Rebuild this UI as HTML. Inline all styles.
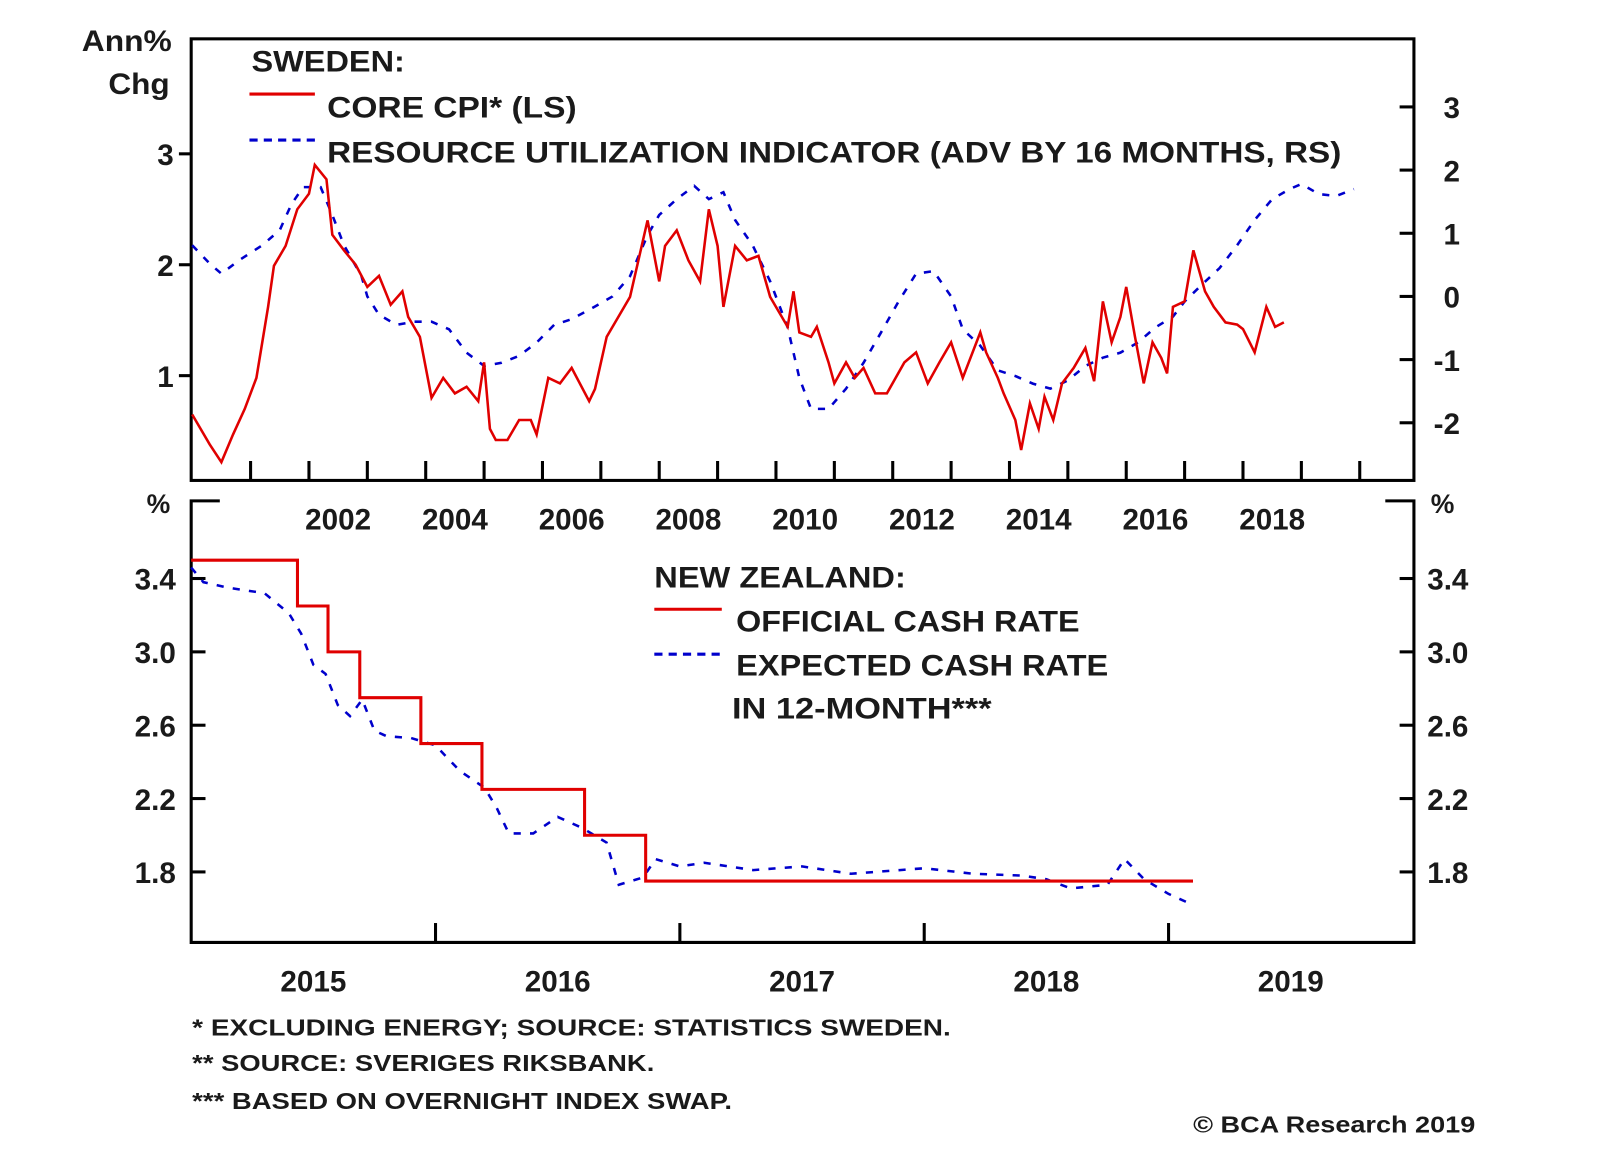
<!DOCTYPE html>
<html><head><meta charset="utf-8"><style>
html,body{margin:0;padding:0;background:#fff;}
svg{display:block;}
text{font-family:"Liberation Sans",sans-serif;font-weight:bold;fill:#1a1a1a;}
</style></head><body>
<svg id="chart" width="1600" height="1152" viewBox="0 0 1565 1127" preserveAspectRatio="none" xmlns="http://www.w3.org/2000/svg">
<g>
<rect x="187" y="38" width="1196" height="432" fill="none" stroke="#000" stroke-width="3"/>
<text x="168" y="50" font-size="29" text-anchor="end" textLength="88" lengthAdjust="spacingAndGlyphs">Ann%</text>
<text x="166" y="92" font-size="29" text-anchor="end" textLength="60" lengthAdjust="spacingAndGlyphs">Chg</text>
<text x="246" y="70" font-size="29" textLength="150" lengthAdjust="spacingAndGlyphs">SWEDEN:</text>
<line x1="244" y1="92" x2="308" y2="92" stroke="#e00000" stroke-width="3"/>
<text x="320" y="115" font-size="29" textLength="244" lengthAdjust="spacingAndGlyphs">CORE CPI* (LS)</text>
<line x1="244" y1="137" x2="308" y2="137" stroke="#0000cc" stroke-width="3" stroke-dasharray="8,6"/>
<text x="320" y="159" font-size="29" textLength="992" lengthAdjust="spacingAndGlyphs">RESOURCE UTILIZATION INDICATOR (ADV BY 16 MONTHS, RS)</text>
<g id="top-axes"></g>
<g id="top-series"></g>
</g>
<g>
<path d="M215,490 H187 V922 H1383 V490 H1355" fill="none" stroke="#000" stroke-width="3"/>
<text x="155" y="502" font-size="26" text-anchor="middle">%</text>
<text x="1411" y="502" font-size="26" text-anchor="middle">%</text>
<text x="640" y="575" font-size="29" textLength="246" lengthAdjust="spacingAndGlyphs">NEW ZEALAND:</text>
<line x1="640" y1="596" x2="706" y2="596" stroke="#e00000" stroke-width="3"/>
<text x="720" y="618" font-size="29" textLength="336" lengthAdjust="spacingAndGlyphs">OFFICIAL CASH RATE</text>
<line x1="640" y1="640" x2="706" y2="640" stroke="#0000cc" stroke-width="3" stroke-dasharray="8,6"/>
<text x="720" y="661" font-size="29" textLength="364" lengthAdjust="spacingAndGlyphs">EXPECTED CASH RATE</text>
<text x="716" y="703" font-size="29" textLength="254" lengthAdjust="spacingAndGlyphs">IN 12-MONTH***</text>
<g id="bot-axes"></g>
<g id="bot-series"></g>
</g>
<g>
<text x="188" y="1013" font-size="23" textLength="742" lengthAdjust="spacingAndGlyphs">*   EXCLUDING ENERGY; SOURCE: STATISTICS SWEDEN.</text>
<text x="188" y="1048" font-size="23" textLength="452" lengthAdjust="spacingAndGlyphs">** SOURCE: SVERIGES RIKSBANK.</text>
<text x="188" y="1085" font-size="23" textLength="528" lengthAdjust="spacingAndGlyphs">*** BASED ON OVERNIGHT INDEX SWAP.</text>
<text x="1443" y="1108" font-size="23" text-anchor="end" textLength="276" lengthAdjust="spacingAndGlyphs">© BCA Research 2019</text>
</g>
</svg>
<script>
const cpiYears=[2000.0,2000.3,2000.5,2000.7,2000.9,2001.1,2001.3,2001.4,2001.6,2001.8,2002.0,2002.1,2002.3,2002.4,2002.6,2002.8,2003.0,2003.2,2003.4,2003.6,2003.7,2003.9,2004.1,2004.3,2004.5,2004.7,2004.9,2005.0,2005.1,2005.2,2005.4,2005.6,2005.8,2005.9,2006.1,2006.3,2006.5,2006.8,2006.9,2007.1,2007.3,2007.5,2007.7,2007.8,2008.0,2008.1,2008.3,2008.5,2008.7,2008.85,2009.0,2009.1,2009.3,2009.5,2009.7,2009.9,2010.0,2010.2,2010.3,2010.4,2010.6,2010.7,2010.9,2011.0,2011.2,2011.35,2011.5,2011.7,2011.9,2012.2,2012.4,2012.6,2012.8,2013.0,2013.2,2013.5,2013.6,2013.8,2013.9,2014.1,2014.2,2014.35,2014.5,2014.6,2014.75,2014.9,2015.1,2015.3,2015.45,2015.6,2015.75,2015.9,2016.0,2016.15,2016.3,2016.45,2016.6,2016.7,2016.8,2017.0,2017.15,2017.35,2017.5,2017.7,2017.9,2018.0,2018.2,2018.4,2018.55,2018.7];
const cpiValues=[0.65,0.38,0.22,0.47,0.7,0.98,1.62,1.99,2.17,2.5,2.64,2.9,2.77,2.27,2.13,2.0,1.8,1.9,1.64,1.76,1.53,1.35,0.8,0.98,0.84,0.9,0.77,1.12,0.52,0.42,0.42,0.6,0.6,0.47,0.98,0.93,1.07,0.77,0.88,1.35,1.53,1.71,2.17,2.4,1.85,2.17,2.31,2.04,1.85,2.5,2.17,1.62,2.17,2.04,2.08,1.71,1.62,1.44,1.76,1.39,1.35,1.44,1.12,0.93,1.12,0.98,1.07,0.84,0.84,1.12,1.21,0.93,1.12,1.3,0.98,1.39,1.21,0.98,0.84,0.6,0.33,0.75,0.52,0.81,0.6,0.93,1.07,1.25,0.95,1.67,1.3,1.53,1.8,1.35,0.93,1.3,1.16,1.02,1.62,1.67,2.13,1.76,1.62,1.48,1.46,1.42,1.21,1.62,1.44,1.48];
const ruiYears=[2000.0,2000.3,2000.5,2000.8,2001.2,2001.5,2001.7,2001.9,2002.2,2002.4,2002.6,2002.9,2003.0,2003.2,2003.5,2003.8,2004.1,2004.4,2004.7,2005.0,2005.3,2005.6,2005.9,2006.2,2006.5,2006.9,2007.2,2007.5,2007.8,2008.0,2008.3,2008.6,2008.85,2009.1,2009.3,2009.6,2009.9,2010.2,2010.4,2010.6,2010.9,2011.2,2011.5,2011.8,2012.1,2012.4,2012.7,2013.0,2013.2,2013.5,2013.8,2014.1,2014.4,2014.7,2015.0,2015.3,2015.6,2015.9,2016.2,2016.5,2016.8,2017.0,2017.3,2017.6,2017.9,2018.2,2018.5,2018.8,2019.0,2019.3,2019.6,2019.9];
const ruiValues=[0.81,0.52,0.36,0.57,0.81,1.05,1.46,1.73,1.73,1.29,0.81,0.32,0,-0.29,-0.45,-0.4,-0.4,-0.52,-0.89,-1.1,-1.05,-0.94,-0.73,-0.45,-0.36,-0.16,0,0.32,0.97,1.29,1.54,1.75,1.54,1.65,1.21,0.81,0.24,-0.49,-1.29,-1.78,-1.78,-1.46,-1.05,-0.57,-0.08,0.36,0.4,0,-0.52,-0.78,-1.17,-1.26,-1.38,-1.46,-1.33,-1.1,-0.97,-0.89,-0.73,-0.49,-0.32,-0.08,0.19,0.45,0.81,1.21,1.54,1.7,1.78,1.62,1.59,1.7];
const topYearLabels=["2002","2004","2006","2008","2010","2012","2014","2016","2018"];
const topLeftTicks=[1,2,3];
const topRightTicks=[-2,-1,0,1,2,3];
const ocrDates=[2015.0,2015.435,2015.56,2015.69,2015.94,2016.19,2016.61,2016.86,2019.1];
const ocrValues=[3.5,3.25,3.0,2.75,2.5,2.25,2.0,1.75,1.75];
const expDates=[2015.0,2015.05,2015.15,2015.3,2015.4,2015.45,2015.5,2015.55,2015.6,2015.65,2015.7,2015.75,2015.8,2015.9,2016.0,2016.1,2016.2,2016.25,2016.3,2016.4,2016.5,2016.6,2016.7,2016.75,2016.85,2016.9,2017.0,2017.1,2017.3,2017.5,2017.7,2017.9,2018.0,2018.2,2018.4,2018.5,2018.6,2018.75,2018.82,2018.9,2019.0,2019.1];
const expValues=[3.46,3.38,3.35,3.32,3.21,3.1,2.93,2.88,2.71,2.65,2.74,2.57,2.54,2.53,2.49,2.35,2.26,2.15,2.01,2.01,2.1,2.04,1.96,1.73,1.77,1.87,1.83,1.85,1.81,1.83,1.79,1.81,1.82,1.79,1.78,1.76,1.71,1.73,1.87,1.76,1.68,1.62];
const botYearLabels=["2015","2016","2017","2018","2019"];
const botTicks=[1.8,2.2,2.6,3.0,3.4];

const NS="http://www.w3.org/2000/svg";
function mk(tag,attrs,parent,txt){const e=document.createElementNS(NS,tag);for(const k in attrs)e.setAttribute(k,attrs[k]);if(txt!==undefined)e.textContent=txt;parent.appendChild(e);return e;}
const tx=y=>188+(y-2000)*57.1, tyL=v=>476-108.5*v, tyR=r=>290-61.8*r;
const bx=t=>187+(t-2015)*239, by=v=>853-(v-1.8)*179.4;
const ta=document.getElementById('top-axes'), ts=document.getElementById('top-series');
const ba=document.getElementById('bot-axes'), bs=document.getElementById('bot-series');
for(let y=2001;y<=2020;y++){const l=mk('line',{x1:tx(y),x2:tx(y),y1:470,y2:451,stroke:'#000','stroke-width':3},ta);

}
topYearLabels.forEach(s=>{const t=mk('text',{x:tx(+s+0.5),y:518,'font-size':29,'text-anchor':'middle'},ta,s);

});
topLeftTicks.forEach(v=>{const l=mk('line',{x1:175,x2:187,y1:tyL(v),y2:tyL(v),stroke:'#000','stroke-width':3},ta);


const t=mk('text',{x:170,y:tyL(v)+11,'font-size':29,'text-anchor':'end'},ta,String(v));

});
topRightTicks.forEach(v=>{const l=mk('line',{x1:1369,x2:1383,y1:tyR(v),y2:tyR(v),stroke:'#000','stroke-width':3},ta);


const t=mk('text',{x:1428,y:tyR(v)+11,'font-size':29,'text-anchor':'end'},ta,String(v));

});
const rp=mk('polyline',{points:ruiYears.map((y,i)=>tx(y)+','+tyR(ruiValues[i])).join(' '),fill:'none',stroke:'#0000cc','stroke-width':2.5,'stroke-dasharray':'7,9'},ts);


const cp=mk('polyline',{points:cpiYears.map((y,i)=>tx(y)+','+tyL(cpiValues[i])).join(' '),fill:'none',stroke:'#e00000','stroke-width':2.5},ts);


for(let y=2016;y<=2019;y++){const l=mk('line',{x1:bx(y),x2:bx(y),y1:922,y2:903,stroke:'#000','stroke-width':3},ba);

}
botYearLabels.forEach(s=>{const t=mk('text',{x:bx(+s+0.5),y:970,'font-size':29,'text-anchor':'middle'},ba,s);

});
botTicks.forEach(v=>{const l=mk('line',{x1:187,x2:201,y1:by(v),y2:by(v),stroke:'#000','stroke-width':3},ba);


const l2=mk('line',{x1:1369,x2:1383,y1:by(v),y2:by(v),stroke:'#000','stroke-width':3},ba);


const t=mk('text',{x:172,y:by(v)+11,'font-size':29,'text-anchor':'end'},ba,v.toFixed(1));


const t2=mk('text',{x:1396,y:by(v)+11,'font-size':29},ba,v.toFixed(1));

});
const ep=mk('polyline',{points:expDates.map((d,i)=>bx(d)+','+by(expValues[i])).join(' '),fill:'none',stroke:'#0000cc','stroke-width':2.5,'stroke-dasharray':'7,9'},bs);


let pts=[];ocrDates.forEach((d,i)=>{if(i>0)pts.push(bx(d)+','+by(ocrValues[i-1]));pts.push(bx(d)+','+by(ocrValues[i]));});
const op=mk('polyline',{points:pts.join(' '),fill:'none',stroke:'#e00000','stroke-width':3},bs);


</script>
</body></html>
